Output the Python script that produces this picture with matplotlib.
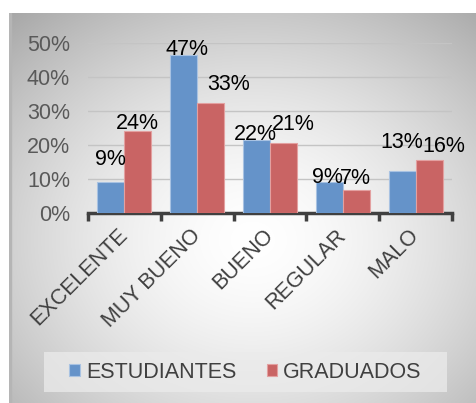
import numpy as np
import matplotlib
matplotlib.use("Agg")
import matplotlib.pyplot as plt
from matplotlib.patches import Rectangle

plt.rcParams['font.family'] = ['Liberation Sans', 'DejaVu Sans']

categories = ["EXCELENTE", "MUY BUENO", "BUENO", "REGULAR", "MALO"]
estudiantes = [0.092, 0.465, 0.215, 0.092, 0.125]
graduados = [0.240, 0.325, 0.205, 0.067, 0.155]
est_labels = ["9%", "47%", "22%", "9%", "13%"]
grad_labels = ["24%", "33%", "21%", "7%", "16%"]
y_ticks = [0, 0.1, 0.2, 0.3, 0.4, 0.5]
y_ticklabels = ["0%", "10%", "20%", "30%", "40%", "50%"]

# label placement tweaks (pixels)
est_dx = [0, 3, -1, -2, 0]
est_dy = [22, 5, 5, 4, 28]
grad_dx = [0, 18, 10, -1, 15]
grad_dy = [8, 18, 19, 12, 14]

FS = 15.5
W, H = 476, 403
fig = plt.figure(figsize=(W / 100, H / 100), dpi=100)
fig.patch.set_facecolor("white")

# background panel with radial gradient
bx0, by0 = 9, 13
bg = fig.add_axes([bx0 / W, 0, 1 - bx0 / W, 1 - by0 / H])
bg.set_axis_off()
ny, nx = 200, 240
yy, xx = np.mgrid[0:ny, 0:nx]
cx, cy = nx * 0.52, ny * 0.58
r = np.sqrt(((xx - cx) / (nx * 0.62)) ** 2 + ((yy - cy) / (ny * 0.62)) ** 2)
val = 1.0 - 0.24 * np.clip(r, 0, 1.3) ** 1.6
img = np.dstack([val, val, val])
bg.imshow(img, extent=[0, 1, 0, 1], aspect="auto", origin="upper", interpolation="bilinear")
bg.add_patch(Rectangle((0, 0), 0.004, 1, color="#b5b5b5", transform=bg.transAxes))
bg.set_xlim(0, 1)
bg.set_ylim(0, 1)

# legend box
fig.patches.append(Rectangle((44 / W, 1 - 392 / H), (447 - 44) / W, 40 / H,
                             transform=fig.transFigure, facecolor="#ebebeb", alpha=0.75,
                             edgecolor="none", zorder=0.5))

# main axes
ax_left, ax_right = 88, 452
ax_top, ax_bottom = 43, 213
ax = fig.add_axes([ax_left / W, 1 - ax_bottom / H, (ax_right - ax_left) / W, (ax_bottom - ax_top) / H])
ax.set_facecolor("none")

x = np.arange(len(categories))
bw = 0.37
b1 = ax.bar(x - bw / 2, estudiantes, bw, color="#6593c9", edgecolor="#a8c2e2", linewidth=0.8,
            label="ESTUDIANTES", zorder=3)
b2 = ax.bar(x + bw / 2, graduados, bw, color="#c96464", edgecolor="#e3a0a0", linewidth=0.8,
            label="GRADUADOS", zorder=3)

for rect, lab, dx, dy in zip(b1, est_labels, est_dx, est_dy):
    ax.annotate(lab, (rect.get_x() + rect.get_width() / 2, rect.get_height()),
                xytext=(dx, dy), textcoords="offset pixels", ha="center", va="center",
                fontsize=FS, color="black", zorder=5, annotation_clip=False)
for rect, lab, dx, dy in zip(b2, grad_labels, grad_dx, grad_dy):
    ax.annotate(lab, (rect.get_x() + rect.get_width() / 2, rect.get_height()),
                xytext=(dx, dy), textcoords="offset pixels", ha="center", va="center",
                fontsize=FS, color="black", zorder=5, annotation_clip=False)

ax.set_xlim(-0.5, len(categories) - 0.5)
ax.set_ylim(0, 0.5)
ax.set_yticks(y_ticks)
ax.set_yticklabels(y_ticklabels, fontsize=FS, color="#595959")
ax.tick_params(axis="y", length=0, pad=13)
ax.yaxis.grid(True, color="#c4c4c4", linewidth=1, zorder=0)
ax.set_axisbelow(True)

ax.set_xticks(np.arange(-0.5, len(categories), 1.0))
ax.set_xticklabels([])
ax.tick_params(axis="x", which="major", direction="out", length=6, width=2.5, color="#404040")
ax.set_xticks(x, minor=True)
ax.set_xticklabels(categories, minor=True, rotation=45, ha="right", va="center",
                   rotation_mode="anchor", fontsize=FS, color="#404040")
ax.tick_params(axis="x", which="minor", length=0, pad=14)

for s in ["top", "left", "right"]:
    ax.spines[s].set_visible(False)
ax.spines["bottom"].set_color("#404040")
ax.spines["bottom"].set_linewidth(2.5)

leg = fig.legend(loc="center", bbox_to_anchor=(245.5 / W, 1 - 372 / H), ncol=2, fontsize=FS,
                 frameon=False, handlelength=0.5, handleheight=0.5,
                 handletextpad=0.28, columnspacing=1.4, borderpad=0.3)
for t in leg.get_texts():
    t.set_color("#404040")

fig.savefig("out.png", dpi=100, facecolor="white")
